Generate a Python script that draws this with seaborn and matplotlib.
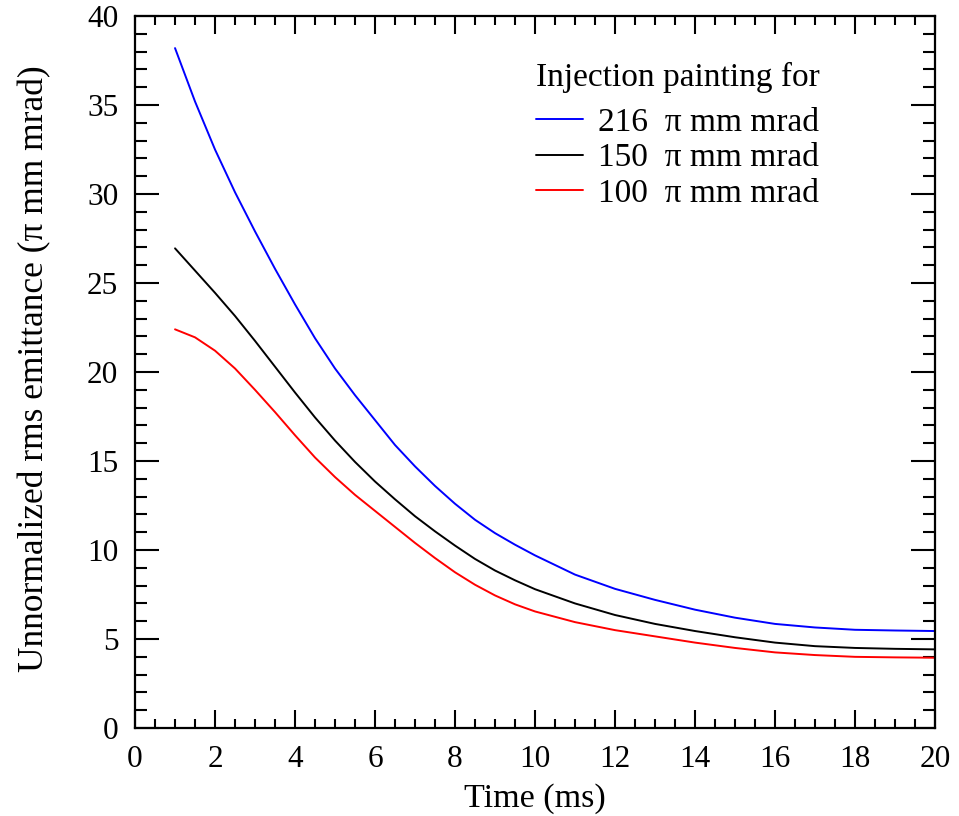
import numpy as np
import pandas as pd
import matplotlib
matplotlib.use("Agg")
import matplotlib.pyplot as plt
import seaborn as sns
from matplotlib.ticker import MultipleLocator

time_ms = [1, 1.5, 2, 2.5, 3, 3.5, 4, 4.5, 5, 5.5, 6, 6.5, 7, 7.5, 8, 8.5,
           9, 9.5, 10, 11, 12, 13, 14, 15, 16, 17, 18, 19, 20]
emit_216 = [38.2, 35.2, 32.5, 30.1, 27.9, 25.8, 23.8, 21.9, 20.2, 18.7, 17.3,
            15.9, 14.7, 13.6, 12.6, 11.7, 10.95, 10.3, 9.7, 8.62, 7.82, 7.2,
            6.65, 6.2, 5.85, 5.65, 5.52, 5.48, 5.45]
emit_150 = [26.95, 25.7, 24.45, 23.15, 21.75, 20.3, 18.85, 17.45, 16.15, 14.95,
            13.85, 12.85, 11.9, 11.05, 10.25, 9.5, 8.85, 8.3, 7.8, 7.0, 6.35,
            5.85, 5.45, 5.1, 4.8, 4.6, 4.5, 4.45, 4.42]
emit_100 = [22.4, 21.95, 21.2, 20.2, 19.0, 17.75, 16.45, 15.2, 14.1, 13.1,
            12.2, 11.3, 10.4, 9.55, 8.75, 8.05, 7.45, 6.95, 6.55, 5.95, 5.5,
            5.15, 4.8, 4.5, 4.25, 4.1, 4.0, 3.97, 3.95]
labels = ["216  \u03c0 mm mrad", "150  \u03c0 mm mrad", "100  \u03c0 mm mrad"]
colors = ["#0000ff", "#000000", "#ff0000"]

frames = []
for lab, vals in zip(labels, [emit_216, emit_150, emit_100]):
    frames.append(pd.DataFrame({"t": time_ms, "e": vals, "case": lab}))
df = pd.concat(frames, ignore_index=True)

sns.set_theme(style="ticks")
plt.rcParams["font.family"] = ["Liberation Serif", "DejaVu Serif"]
plt.rcParams["text.color"] = "black"
plt.rcParams["axes.labelcolor"] = "black"

fig = plt.figure(figsize=(9.59, 8.16), dpi=100)
ax = fig.add_axes([0.1408, 0.1078, 0.8342, 0.8725])

sns.lineplot(data=df, x="t", y="e", hue="case", hue_order=labels,
             palette=dict(zip(labels, colors)), linewidth=1.4, ax=ax,
             legend=True)

ax.set_xlim(0, 20)
ax.set_ylim(0, 40)
ax.xaxis.set_major_locator(MultipleLocator(2))
ax.xaxis.set_minor_locator(MultipleLocator(0.5))
ax.yaxis.set_major_locator(MultipleLocator(5))
ax.yaxis.set_minor_locator(MultipleLocator(1))

ax.tick_params(axis="both", which="both", direction="in", top=True, right=True,
               labelsize=22.5, width=1.5, colors="black", labelcolor="black")
ax.tick_params(axis="x", which="major", length=13, pad=12)
ax.tick_params(axis="x", which="minor", length=6.5)
ax.tick_params(axis="y", which="major", length=17, pad=12)
ax.tick_params(axis="y", which="minor", length=8.5)
for s in ax.spines.values():
    s.set_linewidth(1.6)
    s.set_color("black")

ax.set_xlabel("Time (ms)", fontsize=24.5)
ax.set_ylabel("Unnormalized rms emittance (\u03c0 mm mrad)", fontsize=25.5)
ax.xaxis.set_label_coords(0.5, -0.078, transform=ax.transAxes)
ax.yaxis.set_label_coords(-0.105, 0.505, transform=ax.transAxes)

leg = ax.legend(title="Injection painting for", loc="upper left",
                bbox_to_anchor=(0.501, 0.935), frameon=False, fontsize=24,
                title_fontsize=24, handlelength=1.42, handletextpad=0.45,
                labelspacing=0.15, borderaxespad=0.0, borderpad=0.0)
leg._legend_box.align = "left"
leg._legend_box.sep = 0.15 * 24 + 6.5
for line in leg.get_lines():
    line.set_linewidth(1.4)

fig.savefig("out.png", dpi=100)
